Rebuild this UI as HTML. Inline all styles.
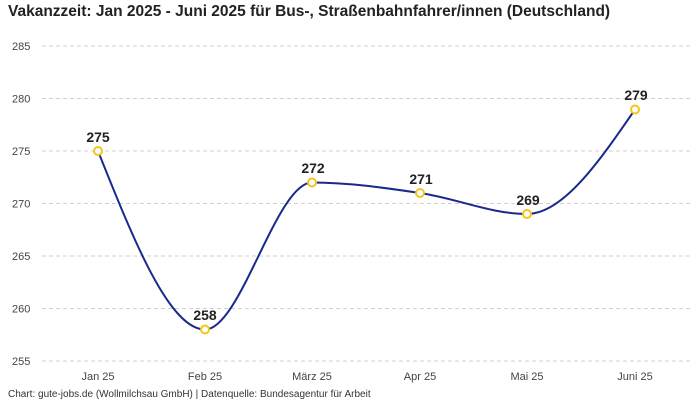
<!DOCTYPE html>
<html><head><meta charset="utf-8"><style>
body{margin:0;background:#fff;}
svg{display:block;font-family:"Liberation Sans",sans-serif;}
</style></head><body>
<svg width="700" height="400" viewBox="0 0 700 400" xmlns="http://www.w3.org/2000/svg">
<rect width="700" height="400" fill="#fff"/>
<text x="8" y="16" font-size="15.5" font-weight="bold" fill="#222">Vakanzzeit: Jan 2025 - Juni 2025 für Bus-, Straßenbahnfahrer/innen (Deutschland)</text>
<g stroke="#d0d0d0" stroke-width="1" stroke-dasharray="4,3">
<line x1="42" x2="690" y1="46" y2="46"/>
<line x1="42" x2="690" y1="98.5" y2="98.5"/>
<line x1="42" x2="690" y1="151" y2="151"/>
<line x1="42" x2="690" y1="203.5" y2="203.5"/>
<line x1="42" x2="690" y1="256" y2="256"/>
<line x1="42" x2="690" y1="308.5" y2="308.5"/>
<line x1="42" x2="690" y1="361" y2="361"/>
</g>
<g font-size="11" fill="#444">
<text x="12" y="50">285</text>
<text x="12" y="102.5">280</text>
<text x="12" y="155">275</text>
<text x="12" y="207.5">270</text>
<text x="12" y="260">265</text>
<text x="12" y="312.5">260</text>
<text x="12" y="365">255</text>
</g>
<g font-size="11" fill="#444" text-anchor="middle">
<text x="98" y="380">Jan 25</text>
<text x="205" y="380">Feb 25</text>
<text x="312" y="380">März 25</text>
<text x="420" y="380">Apr 25</text>
<text x="527" y="380">Mai 25</text>
<text x="635" y="380">Juni 25</text>
</g>
<path d="M98,151 C133.67,240.2 169.33,329.5 205,329.5 C240.67,329.5 276.33,182.5 312,182.5 C348,182.5 384,187.7 420,193 C455.67,198.2 491.33,214 527,214 C563,214 599,161.8 635,109.5" fill="none" stroke="#1a2a8c" stroke-width="2"/>
<g fill="#fff" stroke="#f5c518" stroke-width="2">
<circle cx="98" cy="151" r="4"/>
<circle cx="205" cy="329.5" r="4"/>
<circle cx="312" cy="182.5" r="4"/>
<circle cx="420" cy="193" r="4"/>
<circle cx="527" cy="214" r="4"/>
<circle cx="635" cy="109.5" r="4"/>
</g>
<g font-size="14" font-weight="bold" fill="#222" text-anchor="middle">
<text x="98" y="142">275</text>
<text x="205" y="320">258</text>
<text x="313" y="173">272</text>
<text x="421" y="184">271</text>
<text x="528" y="205">269</text>
<text x="636" y="100">279</text>
</g>
<text x="8" y="397" font-size="10" fill="#333">Chart: gute-jobs.de (Wollmilchsau GmbH) | Datenquelle: Bundesagentur für Arbeit</text>
</svg>
</body></html>
